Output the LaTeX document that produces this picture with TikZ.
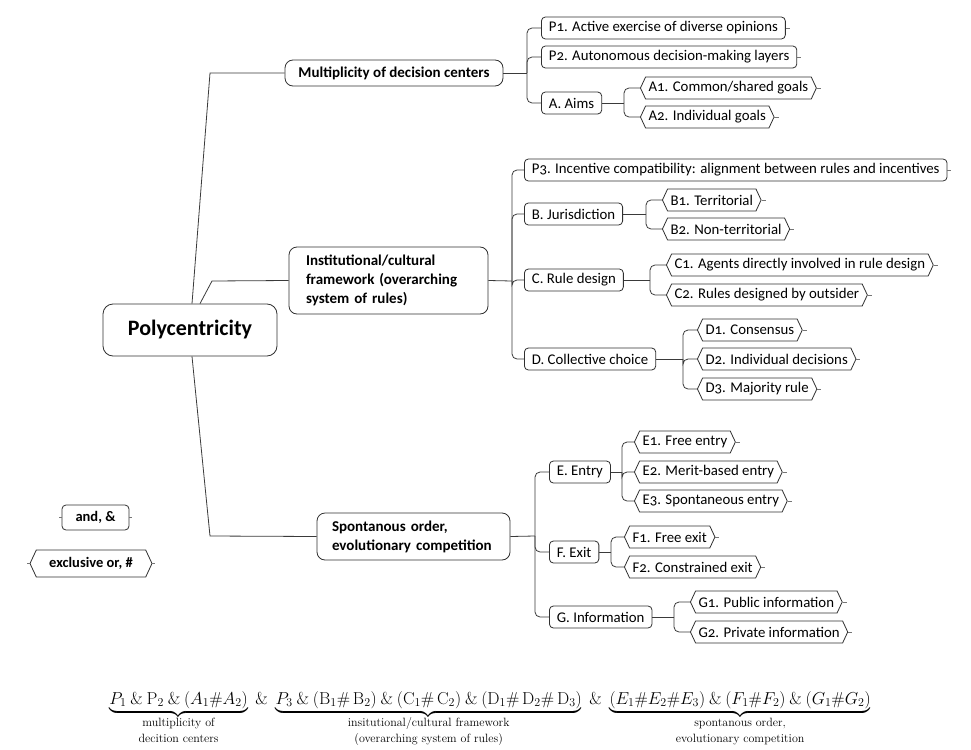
\documentclass[tikz,border=0pt]{standalone}
\usepackage{amsmath}
\usepackage[no-math]{fontspec}
\setmainfont{Carlito}[Numbers=OldStyle]
\usetikzlibrary{shapes.symbols}
\definecolor{ln}{HTML}{3A3A3A}
\definecolor{bd}{HTML}{303030}
\tikzset{
  base/.style={draw=bd, line width=0.8pt, text=black, font=\fontsize{14.8}{16}\selectfont, inner ysep=2pt, minimum height=22pt, anchor=west},
  rbox/.style={base, rectangle, rounded corners=4pt, inner xsep=7.5pt},
  hexbox/.style={base, signal, signal to=west and east, signal pointer angle=130, inner xsep=3pt},
  mainbox/.style={draw=bd, line width=0.8pt, text=black, rectangle, rounded corners=8pt, font=\fontsize{15}{19}\selectfont\bfseries, align=left},
  conn/.style={draw=ln, line width=0.8pt},
  rc/.style={conn, rounded corners=5pt},
  stub/.style={draw=ln!70, line width=0.6pt}
}
\newcommand{\blab}[1]{\text{\raisebox{0pt}[2pt][\depth]{\fontfamily{lmr}\fontsize{12}{15.5}\selectfont\begin{tabular}[t]{@{}c@{}}#1\end{tabular}}}}
\begin{document}
\begin{tikzpicture}[x=1pt,y=-1pt]
\useasboundingbox (0,0) rectangle (971,749);
% central node
\node[draw=bd, line width=0.8pt, rounded corners=10pt, font=\fontsize{22}{24}\selectfont\bfseries, minimum width=174pt, minimum height=52pt] (poly) at (190,330) {Polycentricity};
% main branches
\node[mainbox, minimum width=218pt, minimum height=26pt, align=center, inner sep=0pt] (mult) at (394,73) {Multiplicity of decision centers};
\node[mainbox, inner xsep=17pt, text width=165pt, minimum height=67pt] (inst) at (388.5,280.5) {Institutional/cultural\\framework (overarching\\system of rules)};
\node[mainbox, inner xsep=15pt, text width=163pt, minimum height=47pt] (spont) at (413.5,536.5) {Spontanous order,\\evolutionary competition};
\coordinate (k1) at (210,73);
\coordinate (k2) at (212,281);
\coordinate (k3) at (210,536);
\draw[conn] ([xshift=2pt]poly.north) -- (k1) -- (mult.west);
\draw[conn] ([xshift=10pt]poly.north) -- (k2) -- (inst.west);
\draw[conn] ([xshift=2pt]poly.south) -- (k3) -- (spont.west);
% Multiplicity children
\node[rbox] (p1) at (541,28) {P1. Active exercise of diverse opinions};
\node[rbox] (p2) at (541,57) {P2. Autonomous decision-making layers};
\node[rbox] (aims) at (541,103) {A. Aims};
\node[hexbox] (a1) at (640,88) {A1. Common/shared goals};
\node[hexbox] (a2) at (640,117) {A2. Individual goals};
\coordinate (mJ) at (527,73);
\coordinate (aJ) at (624,103);
\draw[conn] (mult.east) -- (mJ);
\foreach \c in {p1,p2,aims} \draw[rc] (mJ) |- (\c);
\draw[conn] (aims.east) -- (aJ);
\foreach \c in {a1,a2} \draw[rc] (aJ) |- (\c);
% Institutional children
\node[rbox] (p3) at (524,170) {P3. Incentive compatibility: alignment between rules and incentives};
\node[rbox] (jur) at (524,214) {B. Jurisdiction};
\node[rbox] (rule) at (524,280) {C. Rule design};
\node[rbox] (coll) at (524,359) {D. Collective choice};
\node[hexbox] (b1) at (662,200) {B1. Territorial};
\node[hexbox] (b2) at (662,229) {B2. Non-territorial};
\node[hexbox] (c1) at (666,265) {C1. Agents directly involved in rule design};
\node[hexbox] (c2) at (666,295) {C2. Rules designed by outsider};
\node[hexbox] (d1) at (697,330) {D1. Consensus};
\node[hexbox] (d2) at (697,359) {D2. Individual decisions};
\node[hexbox] (d3) at (697,389) {D3. Majority rule};
\coordinate (iJ) at (512,281);
\coordinate (bJ) at (646,214);
\coordinate (cJ) at (650,280);
\coordinate (dJ) at (683,359);
\draw[conn] (inst.east) -- (iJ);
\foreach \c in {p3,jur,rule,coll} \draw[rc] (iJ) |- (\c);
\draw[conn] (jur.east) -- (bJ);
\foreach \c in {b1,b2} \draw[rc] (bJ) |- (\c);
\draw[conn] (rule.east) -- (cJ);
\foreach \c in {c1,c2} \draw[rc] (cJ) |- (\c);
\draw[conn] (coll.east) -- (dJ);
\foreach \c in {d1,d2,d3} \draw[rc] (dJ) |- (\c);
% Spontaneous children
\node[rbox] (entry) at (549,472) {E. Entry};
\node[rbox] (exit) at (549,552) {F. Exit};
\node[rbox] (info) at (549,617) {G. Information};
\node[hexbox] (e1) at (634,442) {E1. Free entry};
\node[hexbox] (e2) at (634,472) {E2. Merit-based entry};
\node[hexbox] (e3) at (634,501) {E3. Spontaneous entry};
\node[hexbox] (f1) at (624,537) {F1. Free exit};
\node[hexbox] (f2) at (624,567) {F2. Constrained exit};
\node[hexbox] (g1) at (690,602) {G1. Public information};
\node[hexbox] (g2) at (690,632) {G2. Private information};
\coordinate (sJ) at (535,536);
\coordinate (eJ) at (622,472);
\coordinate (fJ) at (611,552);
\coordinate (gJ) at (674,617);
\draw[conn] (spont.east) -- (sJ);
\foreach \c in {entry,exit,info} \draw[rc] (sJ) |- (\c);
\draw[conn] (entry.east) -- (eJ);
\foreach \c in {e1,e2,e3} \draw[rc] (eJ) |- (\c);
\draw[conn] (exit.east) -- (fJ);
\foreach \c in {f1,f2} \draw[rc] (fJ) |- (\c);
\draw[conn] (info.east) -- (gJ);
\foreach \c in {g1,g2} \draw[rc] (gJ) |- (\c);
% stubs
\foreach \n in {p1,p2,p3,a1,a2,b1,b2,c1,c2,d1,d2,d3,e1,e2,e3,f1,f2,g1,g2}
  \draw[stub] (\n.east) -- ++(4,0);
% legend
\node[rbox, anchor=center, font=\fontsize{14.5}{16}\selectfont\bfseries, minimum width=67pt, minimum height=25pt, inner xsep=4pt] (andl) at (95.5,517.5) {and, \&};
\node[hexbox, anchor=center, font=\fontsize{14.5}{16}\selectfont\bfseries, minimum width=122pt, minimum height=27pt] (xorl) at (91,563.5) {exclusive or, \#};
\foreach \n in {andl,xorl} {
  \draw[stub] (\n.east) -- ++(3,0);
  \draw[stub] (\n.west) -- ++(-3,0);
}
% formula
\node[anchor=base, inner sep=0pt, font=\fontsize{18}{20}\selectfont] (formula) at (490,704) {$
\underbrace{P_1 \mathbin{\&} \mathrm{P}_2 \mathbin{\&} (A_1\#A_2)}_{\blab{multiplicity of\\ decition centers}}
\mathbin{\;\&\;}
\underbrace{P_3 \mathbin{\&} (\mathrm{B}_1\#\,\mathrm{B}_2) \mathbin{\&} (\mathrm{C}_1\#\,\mathrm{C}_2) \mathbin{\&} (\mathrm{D}_1\#\,\mathrm{D}_2\#\,\mathrm{D}_3)}_{\blab{insitutional/cultural framework\\ (overarching system of rules)}}
\mathbin{\;\&\;}
\underbrace{(E_1\#E_2\#E_3) \mathbin{\&} (F_1\#F_2) \mathbin{\&} (G_1\#G_2)}_{\blab{spontanous order,\\ evolutionary competition}}
$};
\end{tikzpicture}
\end{document}
